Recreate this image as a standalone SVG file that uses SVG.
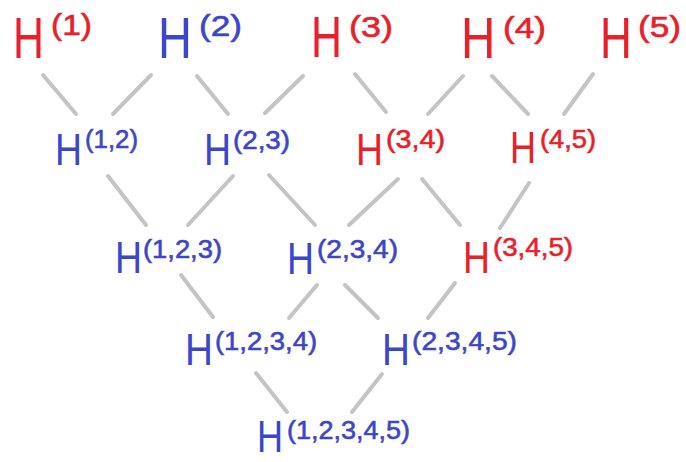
<svg xmlns="http://www.w3.org/2000/svg" width="686" height="462" viewBox="0 0 686 462">
<style>
text{font-family:"Liberation Sans","DejaVu Sans",sans-serif;}
.r{fill:#e8202a;stroke:#e8202a}
.b{fill:#3c46c8;stroke:#3c46c8}
.H1{font-size:58px;stroke-width:0}
.S1{font-size:30px;stroke-width:0.6}
.H{font-size:44px;stroke-width:0}
.S{font-size:26px;stroke-width:0.6}
#edges line{stroke:#c4c4c4;stroke-width:4;stroke-linecap:round}
</style>
<rect width="686" height="462" fill="#ffffff"/>
<g id="edges">
<line x1="43" y1="75" x2="76" y2="114"/>
<line x1="151" y1="75" x2="113" y2="114"/>
<line x1="197" y1="76" x2="228" y2="114"/>
<line x1="303" y1="76" x2="265" y2="113"/>
<line x1="355" y1="74" x2="386" y2="112"/>
<line x1="463" y1="76" x2="428" y2="114"/>
<line x1="492" y1="76" x2="528" y2="114"/>
<line x1="593" y1="74" x2="564" y2="114"/>
<line x1="108" y1="176" x2="146" y2="225"/>
<line x1="233" y1="176" x2="188" y2="225"/>
<line x1="269" y1="175" x2="315" y2="225"/>
<line x1="398" y1="179" x2="349" y2="225"/>
<line x1="422" y1="179" x2="460" y2="225"/>
<line x1="529" y1="183" x2="500" y2="228"/>
<line x1="181" y1="275" x2="213" y2="317"/>
<line x1="317" y1="285" x2="289" y2="318"/>
<line x1="345" y1="285" x2="378" y2="318"/>
<line x1="455" y1="283" x2="428" y2="318"/>
<line x1="256" y1="373" x2="287" y2="412"/>
<line x1="382" y1="374" x2="352" y2="412"/>
</g>
<g id="n1" class="r"><text class="H1" transform="translate(13,58) scale(0.74,1)">H</text><text class="S1" x="51" y="35" textLength="41" lengthAdjust="spacingAndGlyphs">(1)</text></g>
<g id="n2" class="b"><text class="H1" transform="translate(158,58) scale(0.81,1)">H</text><text class="S1" x="199" y="36" textLength="43" lengthAdjust="spacingAndGlyphs">(2)</text></g>
<g id="n3" class="r"><text class="H1" transform="translate(311,57) scale(0.74,1)">H</text><text class="S1" x="349" y="37" textLength="44" lengthAdjust="spacingAndGlyphs">(3)</text></g>
<g id="n4" class="r"><text class="H1" transform="translate(461,58) scale(0.82,1)">H</text><text class="S1" x="503" y="38" textLength="43" lengthAdjust="spacingAndGlyphs">(4)</text></g>
<g id="n5" class="r"><text class="H1" transform="translate(600,58) scale(0.76,1)">H</text><text class="S1" x="638" y="37" textLength="43" lengthAdjust="spacingAndGlyphs">(5)</text></g>
<g id="n12" class="b"><text class="H" transform="translate(55,165) scale(0.85,1)">H</text><text class="S" x="85" y="148" textLength="53" lengthAdjust="spacingAndGlyphs">(1,2)</text></g>
<g id="n23" class="b"><text class="H" transform="translate(204,165) scale(0.85,1)">H</text><text class="S" x="233" y="149" textLength="57" lengthAdjust="spacingAndGlyphs">(2,3)</text></g>
<g id="n34" class="r"><text class="H" transform="translate(356,165) scale(0.85,1)">H</text><text class="S" x="386" y="148" textLength="59" lengthAdjust="spacingAndGlyphs">(3,4)</text></g>
<g id="n45" class="r"><text class="H" transform="translate(510,163) scale(0.82,1)">H</text><text class="S" x="540" y="148" textLength="56" lengthAdjust="spacingAndGlyphs">(4,5)</text></g>
<g id="n123" class="b"><text class="H" transform="translate(115,273) scale(0.85,1)">H</text><text class="S" x="143" y="258" textLength="79" lengthAdjust="spacingAndGlyphs">(1,2,3)</text></g>
<g id="n234" class="b"><text class="H" transform="translate(287,274) scale(0.85,1)">H</text><text class="S" x="317" y="258" textLength="81" lengthAdjust="spacingAndGlyphs">(2,3,4)</text></g>
<g id="n345" class="r"><text class="H" transform="translate(463,273) scale(0.85,1)">H</text><text class="S" x="493" y="256" textLength="80" lengthAdjust="spacingAndGlyphs">(3,4,5)</text></g>
<g id="n1234" class="b"><text class="H" transform="translate(185,365) scale(0.88,1)">H</text><text class="S" x="215" y="350" textLength="102" lengthAdjust="spacingAndGlyphs">(1,2,3,4)</text></g>
<g id="n2345" class="b"><text class="H" transform="translate(382,365) scale(0.88,1)">H</text><text class="S" x="412" y="350" textLength="105" lengthAdjust="spacingAndGlyphs">(2,3,4,5)</text></g>
<g id="n12345" class="b"><text class="H" transform="translate(257,452) scale(0.82,1)">H</text><text class="S" x="287" y="439" textLength="123" lengthAdjust="spacingAndGlyphs">(1,2,3,4,5)</text></g>
</svg>
